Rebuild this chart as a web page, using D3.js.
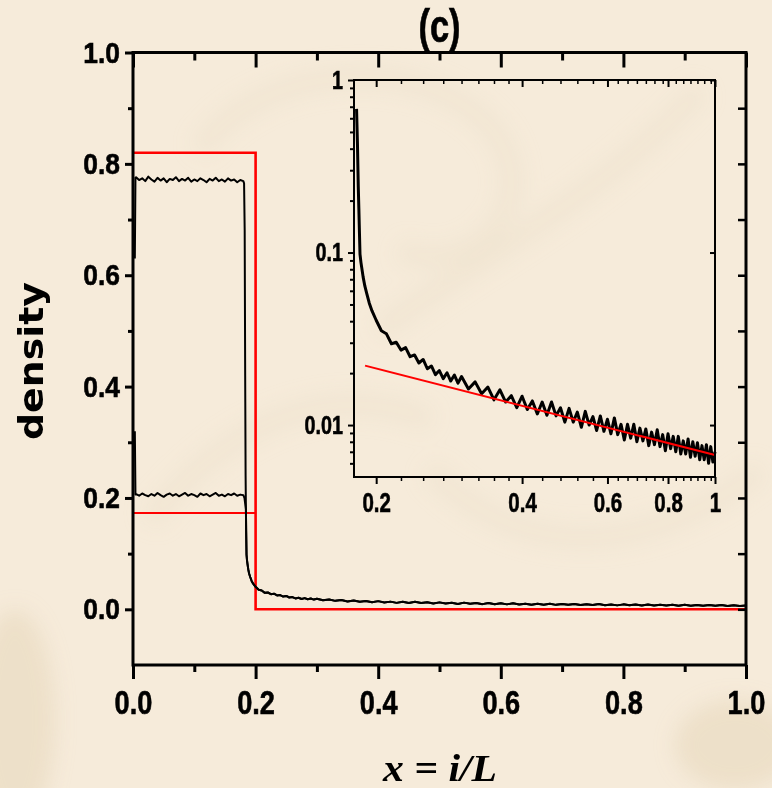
<!DOCTYPE html>
<html lang="en">
<head>
  <meta charset="UTF-8" />
  <title>density profile (c)</title>
  <script src="https://d3js.org/d3.v7.min.js"></script>
  <style>
    body { margin: 0; padding: 0; background: #f6ebda; }
    svg { display: block; }
    .num { font-family: 'Liberation Sans', Arial, sans-serif; font-weight: bold; fill: #000; stroke: #000; stroke-width: 0.6px; }
  </style>
</head>
<body>
<div id="chart"></div>
<script>
  // ----- Data -----
  // main panel: plateaus of the two profiles, x = i/L
  const plateauX = [0.005, 0.01, 0.015, 0.02, 0.025, 0.03, 0.035, 0.04, 0.045, 0.05, 0.055, 0.06,
                    0.065, 0.07, 0.075, 0.08, 0.085, 0.09, 0.095, 0.10, 0.105, 0.11, 0.115, 0.12,
                    0.125, 0.13, 0.135, 0.14, 0.145, 0.15, 0.155, 0.16, 0.165, 0.17, 0.175, 0.18];
  const upperY = [0.776, 0.771, 0.774, 0.769, 0.777, 0.772, 0.768, 0.775, 0.770, 0.774, 0.767, 0.773,
                  0.771, 0.776, 0.769, 0.773, 0.770, 0.775, 0.768, 0.772, 0.769, 0.774, 0.771, 0.767,
                  0.773, 0.770, 0.775, 0.769, 0.772, 0.768, 0.774, 0.770, 0.772, 0.767, 0.771, 0.769];
  const lowerY = [0.207, 0.204, 0.208, 0.205, 0.203, 0.207, 0.204, 0.209, 0.205, 0.202, 0.206, 0.208,
                  0.204, 0.207, 0.203, 0.206, 0.209, 0.204, 0.207, 0.205, 0.202, 0.208, 0.205, 0.207,
                  0.203, 0.206, 0.209, 0.204, 0.206, 0.203, 0.207, 0.205, 0.208, 0.204, 0.206, 0.205];
  // left / right edges of the plateaus
  const upperInX = [0.003, 0.004], upperInY = [0.63, 0.775];
  const lowerInX = [0.003, 0.004], lowerInY = [0.32, 0.206];
  const upperOutX = [0.1812], upperOutY = [0.765];
  const lowerOutX = [0.1818], lowerOutY = [0.200];

  // steep drop after the jam front
  const steepX = [0.1822, 0.1830, 0.1837, 0.1842, 0.1846, 0.1852, 0.1860, 0.1867, 0.1880, 0.1895, 0.1912, 0.1935, 0.1960];
  const steepY = [0.68, 0.42, 0.24, 0.18, 0.14, 0.098, 0.088, 0.082, 0.072, 0.064, 0.058, 0.051, 0.046];

  // noisy tail (same data in both panels)
  const tailX = [0.200, 0.205, 0.210, 0.215, 0.220, 0.225, 0.230, 0.235, 0.240, 0.245,
                 0.250, 0.255, 0.260, 0.265, 0.270, 0.275, 0.280, 0.285, 0.290, 0.295,
                 0.30, 0.31, 0.32, 0.33, 0.34, 0.35, 0.36, 0.37, 0.38, 0.39,
                 0.40, 0.41, 0.42, 0.43, 0.44, 0.45, 0.46, 0.47, 0.48, 0.49,
                 0.50, 0.51, 0.52, 0.53, 0.54, 0.55, 0.56, 0.57, 0.58, 0.59,
                 0.60, 0.61, 0.62, 0.63, 0.64, 0.65, 0.66, 0.67, 0.68, 0.69,
                 0.70, 0.71, 0.72, 0.73, 0.74, 0.75, 0.76, 0.77, 0.78, 0.79,
                 0.80, 0.81, 0.82, 0.83, 0.84, 0.85, 0.86, 0.87, 0.88, 0.89,
                 0.90, 0.91, 0.92, 0.93, 0.94, 0.95, 0.96, 0.97, 0.98, 0.99, 1.00];
  const tailY = [0.0405, 0.0352, 0.0338, 0.0296, 0.0302, 0.0272, 0.0281, 0.0249, 0.0255, 0.0229,
                 0.0240, 0.0212, 0.0220, 0.0196, 0.0207, 0.0186, 0.0201, 0.0180, 0.0195, 0.0175,
                 0.0191, 0.0162, 0.0178, 0.0152, 0.0166, 0.0140, 0.0160, 0.0136, 0.0148, 0.0126,
                 0.0147, 0.0123, 0.0138, 0.0116, 0.0136, 0.0114, 0.0136, 0.0113, 0.0126, 0.0104,
                 0.0125, 0.0104, 0.0119, 0.0097, 0.0120, 0.0100, 0.0112, 0.0093, 0.0113, 0.0092,
                 0.0108, 0.0089, 0.0110, 0.0088, 0.0101, 0.0082, 0.0101, 0.0084, 0.0101, 0.0080,
                 0.0096, 0.0081, 0.0095, 0.0076, 0.0091, 0.0077, 0.0094, 0.0075, 0.0088, 0.0071,
                 0.0089, 0.0073, 0.0086, 0.0070, 0.0086, 0.0068, 0.0081, 0.0068, 0.0083, 0.0065,
                 0.0080, 0.0066, 0.0079, 0.0063, 0.0076, 0.0063, 0.0077, 0.0060, 0.0075, 0.0061, 0.0070];

  // red step profiles (main) and red power-law fit (inset)
  const redUpX = [0, 0.2, 0.2, 1.0], redUpY = [0.82, 0.82, 0.0, 0.0];
  const redLowX = [0, 0.2], redLowY = [0.173, 0.173];
  const fitX = [0.1897, 1.0], fitY = [0.0221, 0.0067];

  // ticks
  const xMajor = [0, 0.2, 0.4, 0.6, 0.8, 1.0];
  const xMinor = [0.1, 0.3, 0.5, 0.7, 0.9];
  const yMajor = [0, 0.2, 0.4, 0.6, 0.8, 1.0];
  const yMinor = [0.1, 0.3, 0.5, 0.7, 0.9];
  const yRight = [0, 0.1, 0.2, 0.3, 0.4, 0.5, 0.6, 0.7, 0.8, 0.9];
  const inXMajor = [0.2, 0.4, 0.6, 0.8, 1];
  const inXMinor = [0.225, 0.25, 0.275, 0.3, 0.325, 0.35, 0.375, 0.44, 0.48, 0.52, 0.56,
                    0.63, 0.66, 0.69, 0.72, 0.75, 0.78, 0.83, 0.86, 0.89, 0.92, 0.95, 0.98];
  const inYMajor = [0.01, 0.1, 1];
  const inYMinor = [0.006, 0.007, 0.008, 0.009, 0.02, 0.03, 0.04, 0.05, 0.06, 0.07, 0.08, 0.09,
                    0.2, 0.3, 0.4, 0.5, 0.6, 0.7, 0.8, 0.9];

  // ----- Setup SVG -----
  const width = 772, height = 788;
  const svg = d3.select('#chart').append('svg')
    .attr('width', width).attr('height', height);

  // parchment background
  const defs = svg.append('defs');
  defs.append('filter').attr('id', 'soft').attr('x', '-50%').attr('y', '-50%').attr('width', '200%').attr('height', '200%')
    .append('feGaussianBlur').attr('stdDeviation', 10);
  svg.append('rect').attr('width', width).attr('height', height).attr('fill', '#f6ebda');
  const bg = svg.append('g').attr('filter', 'url(#soft)');
  [
    'M 200 150 C 260 60, 440 50, 500 140 C 540 210, 470 280, 400 250',
    'M 380 330 C 470 260, 600 200, 700 90',
    'M 150 520 C 230 420, 330 380, 430 420',
    'M 430 470 C 520 560, 640 560, 760 470'
  ].forEach(d => bg.append('path').attr('d', d).attr('fill', 'none')
      .attr('stroke', '#eee1cb').attr('stroke-width', 20).attr('opacity', 0.5));
  bg.append('ellipse').attr('cx', 15).attr('cy', 720).attr('rx', 40).attr('ry', 110).attr('fill', '#e0cfb0').attr('opacity', 0.4);
  bg.append('ellipse').attr('cx', 735).attr('cy', 745).attr('rx', 60).attr('ry', 45).attr('fill', '#e0cfb0').attr('opacity', 0.4);

  // ----- Scales -----
  const x = d3.scaleLinear().domain([0, 1]).range([133, 746]);
  const y = d3.scaleLinear().domain([-0.1, 1]).range([665, 52.5]);
  const xi = d3.scaleLog().domain([0.18, 1]).range([354, 715]);
  const yi = d3.scaleLog().domain([0.005, 1]).range([477, 80]);

  const zip = (xs, ys) => xs.map((v, i) => [v, ys[i]]);
  const steep = zip(steepX, steepY);
  const tail = zip(tailX, tailY);
  const upper = [...zip(upperInX, upperInY), ...zip(plateauX, upperY), ...zip(upperOutX, upperOutY), ...steep, ...tail];
  const lower = [...zip(lowerInX, lowerInY), ...zip(plateauX, lowerY), ...zip(lowerOutX, lowerOutY),
                 ...steep.filter(d => d[1] < 0.2), ...tail];

  const lineMain = d3.line().x(d => x(d[0])).y(d => y(d[1]));
  const lineIn = d3.line().x(d => xi(d[0])).y(d => yi(d[1]));

  // narrow bold look: squeeze each text horizontally about its anchor
  function squeeze(sel, k) {
    sel.each(function () {
      const x0 = +(this.getAttribute('x') || 0);
      d3.select(this).attr('transform', `translate(${x0},0) scale(${k},1) translate(${-x0},0)`);
    });
  }

  // ----- Axes helper -----
  function axis(gen, tx, ty, sw, fs, k) {
    const a = svg.append('g').attr('transform', `translate(${tx},${ty})`).call(gen);
    a.select('.domain').remove();
    a.selectAll('line').attr('stroke', '#000').attr('stroke-width', sw);
    if (fs) {
      a.selectAll('text').attr('class', 'num').attr('font-size', fs).attr('fill', '#000');
      squeeze(a.selectAll('text'), k);
    }
    return a;
  }
  const f1 = d3.format('.1f');

  // ----- Main panel: curves -----
  svg.append('path').datum(zip(redUpX, redUpY)).attr('d', lineMain)
    .attr('fill', 'none').attr('stroke', '#ff0000').attr('stroke-width', 2.6);
  svg.append('path').datum(zip(redLowX, redLowY)).attr('d', lineMain)
    .attr('fill', 'none').attr('stroke', '#ff0000').attr('stroke-width', 2.2);
  [upper, lower].forEach(s => svg.append('path').datum(s).attr('d', lineMain)
    .attr('fill', 'none').attr('stroke', '#000').attr('stroke-width', 2).attr('stroke-linejoin', 'round'));

  // ----- Main panel: frame and ticks -----
  axis(d3.axisBottom(x).tickValues(xMajor).tickFormat(f1).tickSize(14).tickPadding(11), 0, 665, 3, 34, 0.8);
  axis(d3.axisBottom(x).tickValues(xMinor).tickFormat('').tickSize(7), 0, 665, 3);
  axis(d3.axisBottom(x).tickValues(xMajor).tickFormat('').tickSize(15), 0, 52.5, 3);
  axis(d3.axisBottom(x).tickValues(xMinor).tickFormat('').tickSize(8), 0, 52.5, 3);
  axis(d3.axisLeft(y).tickValues(yMajor).tickFormat(f1).tickSize(8).tickPadding(5), 133, 0, 3, 30, 0.88);
  axis(d3.axisLeft(y).tickValues(yMinor).tickFormat('').tickSize(5), 133, 0, 3);
  axis(d3.axisLeft(y).tickValues(yRight).tickFormat('').tickSize(8), 746, 0, 2.5);
  svg.append('rect').attr('x', 133).attr('y', 52.5).attr('width', 613).attr('height', 612.5)
    .attr('fill', 'none').attr('stroke', '#000').attr('stroke-width', 3);

  // ----- Inset: curves -----
  const inset = [...steep, ...tail];
  svg.append('path').datum(inset).attr('d', lineIn)
    .attr('fill', 'none').attr('stroke', '#000').attr('stroke-width', 3).attr('stroke-linejoin', 'round');
  svg.append('path').datum(zip(fitX, fitY)).attr('d', lineIn)
    .attr('fill', 'none').attr('stroke', '#ff0000').attr('stroke-width', 2);

  // ----- Inset: frame and ticks -----
  axis(d3.axisBottom(xi).tickValues(inXMajor).tickFormat(d => d === 1 ? '1' : f1(d)).tickSize(7).tickPadding(9), 0, 477, 2, 27, 0.76);
  axis(d3.axisBottom(xi).tickValues(inXMinor).tickFormat('').tickSize(4), 0, 477, 1.5);
  axis(d3.axisBottom(xi).tickValues(inXMajor).tickFormat('').tickSize(7), 0, 80, 2);
  axis(d3.axisBottom(xi).tickValues(inXMinor).tickFormat('').tickSize(4), 0, 80, 1.5);
  axis(d3.axisLeft(yi).tickValues(inYMajor).tickFormat(d => String(d)).tickSize(6).tickPadding(5), 354, 0, 2, 26, 0.76);
  axis(d3.axisLeft(yi).tickValues(inYMinor).tickFormat('').tickSize(4), 354, 0, 2);
  axis(d3.axisLeft(yi).tickValues(inYMajor).tickFormat('').tickSize(5), 715, 0, 2);
  svg.append('rect').attr('x', 354).attr('y', 80).attr('width', 361).attr('height', 397)
    .attr('fill', 'none').attr('stroke', '#000').attr('stroke-width', 2);

  // ----- Titles -----
  const title = svg.append('text').attr('class', 'num').attr('x', 439.5).attr('y', 42.5)
    .attr('text-anchor', 'middle').attr('font-size', 46).text('(c)');
  squeeze(title, 0.75);
  svg.append('text').attr('transform', 'translate(43,361) rotate(-90)')
    .attr('text-anchor', 'middle').attr('font-family', "'DejaVu Sans', sans-serif").attr('font-weight', 'bold')
    .attr('font-size', 34).attr('textLength', 158).attr('lengthAdjust', 'spacingAndGlyphs').text('density');
  svg.append('text').attr('x', 440).attr('y', 781)
    .attr('text-anchor', 'middle').attr('font-family', "'Liberation Serif', 'Times New Roman', serif")
    .attr('font-style', 'italic').attr('font-weight', 'bold').attr('font-size', 38)
    .attr('textLength', 114).attr('lengthAdjust', 'spacingAndGlyphs').text('x = i/L');
</script>
</body>
</html>
